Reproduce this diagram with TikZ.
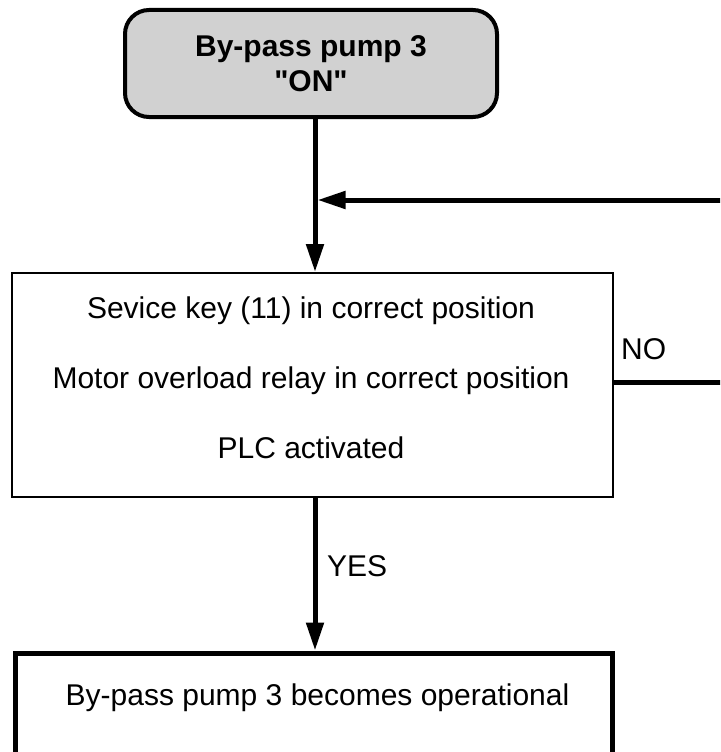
\documentclass[tikz,border=0pt]{standalone}
\usepackage{fontspec}
\setmainfont{Liberation Sans}
\newcommand\straightdq{\XeTeXglyph\XeTeXcharglyph"22\relax}
\usetikzlibrary{arrows.meta}
\begin{document}
\begin{tikzpicture}[x=1pt,y=-1pt,
  thickline/.style={line width=5pt},
  flow/.style={thickline,-{Triangle[length=28pt,width=17pt]}},
  txt/.style={font=\fontsize{30}{36}\selectfont, inner sep=0pt},
  startbox/.style={draw, line width=4pt, rounded corners=24pt, fill=black!18,
    minimum width=372pt, minimum height=107pt, inner sep=0pt,
    font=\fontsize{30}{35}\selectfont\bfseries, align=center},
  checkbox/.style={draw, line width=2pt, minimum width=601pt, minimum height=223.5pt, inner sep=0pt},
  endbox/.style={draw, line width=5pt, minimum width=597pt, minimum height=220pt, inner sep=0pt, anchor=north},
]
\useasboundingbox (0,0) rectangle (720,752);
\clip (0,0) rectangle (720,752);

\node[startbox] (start) at (311,63.5) {By-pass pump 3\\\straightdq ON\straightdq};

\node[checkbox] (check) at (312.5,384.75) {};
\node[txt, align=center, font=\fontsize{30}{70}\selectfont] (checktext) at (311,378)
  {Sevice key (11) in correct position\\Motor overload relay in correct position\\PLC activated};

\node[endbox] (done) at (314,650.5) {};
\node[txt] (donetext) at (317.5,698) {By-pass pump 3 becomes operational};

\node[txt, anchor=west] (yes) at (327,566) {YES};
\node[txt, anchor=west] (no) at (621,349) {NO};

\coordinate (xl) at (315,0);
\coordinate (merge) at (317.5,200);
\coordinate (loopin) at (725,200);
\coordinate (loopout) at (725,382);

\draw[flow] (start.south -| xl) -- (check.north -| xl);
\draw[flow] (loopin) -- (merge);
\draw[thickline] (check.east |- loopout) -- (loopout);
\draw[flow] (check.south -| xl) -- (done.north -| xl);
\end{tikzpicture}
\end{document}
